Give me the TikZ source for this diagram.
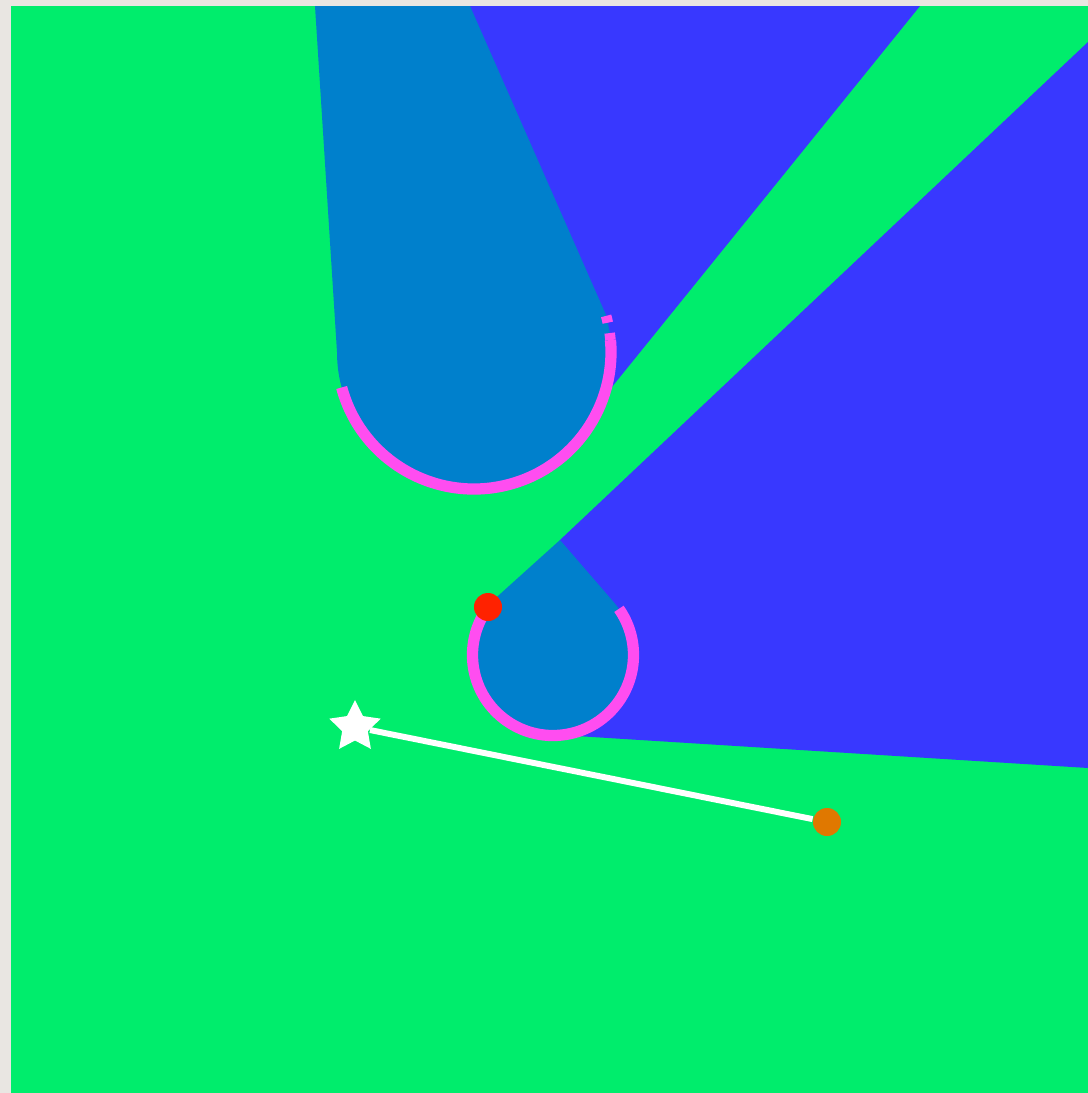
\documentclass[tikz,border=0pt]{standalone}
\usetikzlibrary{shapes.geometric}
\definecolor{bggray}{RGB}{233,230,226}
\definecolor{fieldgreen}{RGB}{0,237,108}
\definecolor{deepblue}{RGB}{56,56,255}
\definecolor{midblue}{RGB}{0,128,204}
\definecolor{arcpink}{RGB}{255,77,240}
\definecolor{dotred}{RGB}{255,34,0}
\definecolor{dotorange}{RGB}{224,120,0}
\tikzset{
  pinkarc/.style={draw=arcpink, line width=3.2pt},
  dotnode/.style={circle, inner sep=0pt, minimum size=0.28cm},
}
\begin{document}
\begin{tikzpicture}[x=0.01cm,y=0.01cm]
\useasboundingbox (0,0) rectangle (1088,-1093);
\fill[bggray] (0,0) rectangle (1088,-1093);
\fill[fieldgreen] (11,-6) rectangle (1088,-1093);
% upper deep blue wedge
\fill[deepblue] (470,-6) -- (920,-6) -- (603,-398) -- (540,-330) -- cycle;
% lower deep blue region
\fill[deepblue] (560,-540) -- (1088,-42) -- (1088,-768) -- (560,-735) -- cycle;
% upper teardrop
\fill[midblue] (315,-6) -- (337,-352) arc[start angle=180, end angle=376, radius=137] -- (470,-6) -- cycle;
\draw[pinkarc] (474,-352) ++(195:137) arc[start angle=195, end angle=365, radius=137];
\draw[arcpink, line width=3pt, dash pattern=on 2pt off 3pt] (474,-352) ++(365:137) arc[start angle=365, end angle=377, radius=137];
% lower teardrop
\fill[midblue] (560,-540) -- (499,-595) arc[start angle=132, end angle=400, radius=80.5] -- cycle;
\draw[pinkarc] (553,-655) ++(145:80.5) arc[start angle=145, end angle=395, radius=80.5];
% markers
\node[dotnode, fill=dotred] (reddot) at (488,-607) {};
\node[star, star points=5, star point ratio=2.0, fill=white, inner sep=0pt, minimum size=0.54cm] (startpt) at (355,-727) {};
\node[dotnode, fill=dotorange] (enddot) at (827,-822) {};
\draw[white, line width=1.7pt] (startpt) -- (enddot);
\end{tikzpicture}
\end{document}
